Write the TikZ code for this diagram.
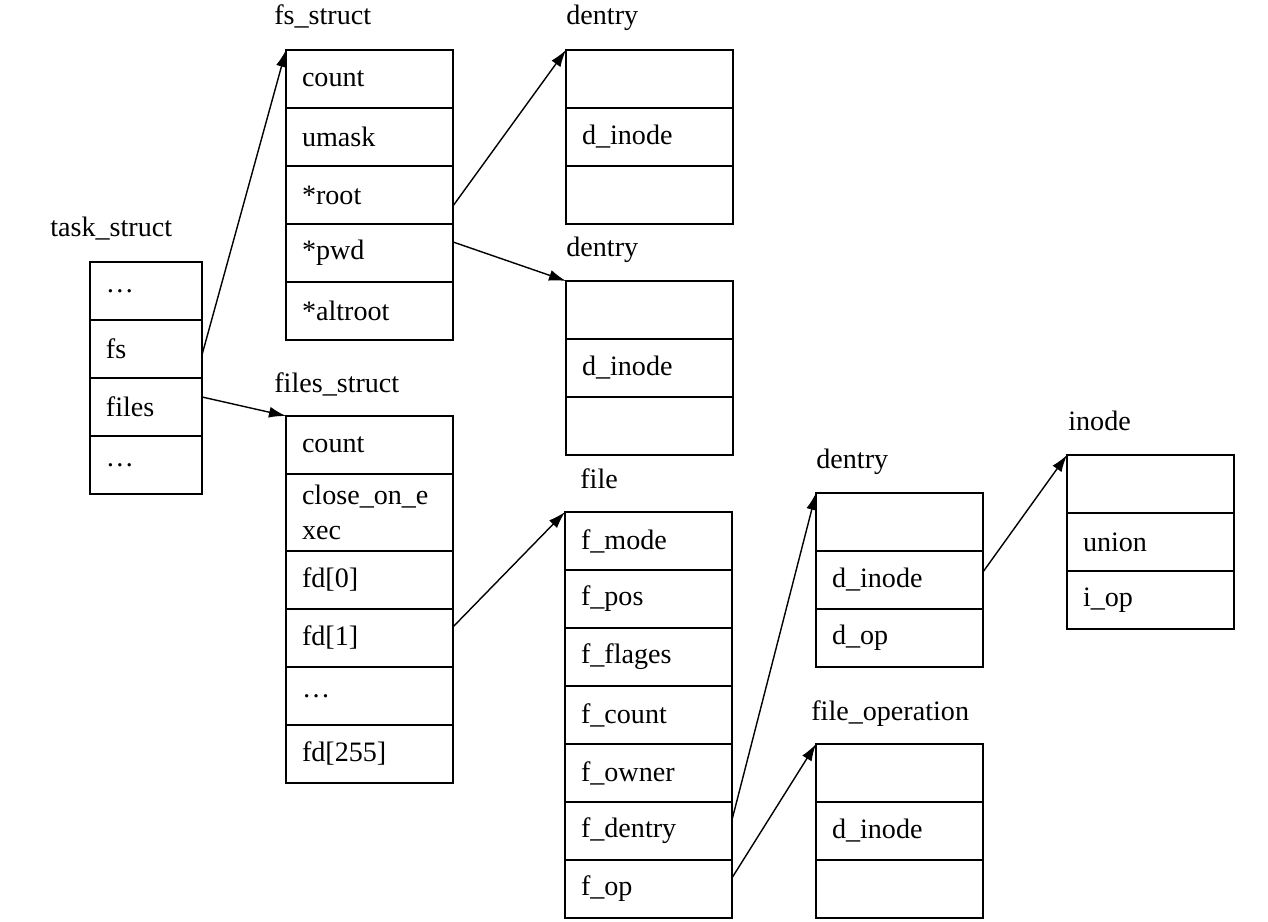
\documentclass[tikz,border=0pt]{standalone}
\usepackage{fontspec}
\setmainfont{Liberation Serif}
\usetikzlibrary{positioning,arrows.meta}

\tikzset{
  cell/.style={draw, line width=1pt, minimum width=3.34cm, minimum height=1.16cm,
    text width=2.70cm, inner xsep=0.32cm, inner ysep=0pt, outer sep=0pt, align=left,
    font=\fontsize{16}{20}\selectfont},
  tcell/.style={cell, minimum width=2.24cm, text width=1.60cm},
  title/.style={anchor=base west, inner sep=0pt, font=\fontsize{16}{20}\selectfont},
  ptr/.style={-{Latex[length=0.34cm,width=0.22cm]}, line width=0.8pt},
}

\begin{document}
\begin{tikzpicture}[x=0.02cm, y=-0.02cm, node distance=0pt]
    \useasboundingbox (0,0) rectangle (1268,922);

    % task_struct
    \node[title] (tsT) at (50,237) {task\_struct};
    \node[tcell, anchor=north west] (ts1) at (90,262) {…};
    \node[tcell, below=of ts1] (tsFs) {fs};
    \node[tcell, below=of tsFs] (tsFiles) {files};
    \node[tcell, below=of tsFiles] (ts4) {…};

    % fs_struct
    \node[title] (fsT) at (274,25) {fs\_struct};
    \node[cell, anchor=north west] (fsCount) at (286,50) {count};
    \node[cell, below=of fsCount] (fsUmask) {umask};
    \node[cell, below=of fsUmask] (fsRoot) {*root};
    \node[cell, below=of fsRoot] (fsPwd) {*pwd};
    \node[cell, below=of fsPwd] (fsAlt) {*altroot};

    % files_struct
    \node[title] (flT) at (274,392) {files\_struct};
    \node[cell, anchor=north west] (flCount) at (286,416) {count};
    \node[cell, below=of flCount, minimum height=1.54cm] (flClose) {close\_on\_e\\xec};
    \node[cell, below=of flClose] (flFd0) {fd[0]};
    \node[cell, below=of flFd0] (flFd1) {fd[1]};
    \node[cell, below=of flFd1] (flDots) {…};
    \node[cell, below=of flDots] (flFd255) {fd[255]};

    % dentry (root)
    \node[title] (dnAT) at (566,25) {dentry};
    \node[cell, anchor=north west] (dnA1) at (566,50) {};
    \node[cell, below=of dnA1] (dnAInode) {d\_inode};
    \node[cell, below=of dnAInode] (dnA3) {};

    % dentry (pwd)
    \node[title] (dnBT) at (566,256) {dentry};
    \node[cell, anchor=north west] (dnB1) at (566,281) {};
    \node[cell, below=of dnB1] (dnBInode) {d\_inode};
    \node[cell, below=of dnBInode] (dnB3) {};

    % file
    \node[title] (fT) at (580,488) {file};
    \node[cell, anchor=north west] (fMode) at (565,512) {f\_mode};
    \node[cell, below=of fMode] (fPos) {f\_pos};
    \node[cell, below=of fPos] (fFlages) {f\_flages};
    \node[cell, below=of fFlages] (fCount) {f\_count};
    \node[cell, below=of fCount] (fOwner) {f\_owner};
    \node[cell, below=of fOwner] (fDentry) {f\_dentry};
    \node[cell, below=of fDentry] (fOp) {f\_op};

    % dentry (file)
    \node[title] (dnCT) at (816,468) {dentry};
    \node[cell, anchor=north west] (dnC1) at (816,493) {};
    \node[cell, below=of dnC1] (dnCInode) {d\_inode};
    \node[cell, below=of dnCInode] (dnCOp) {d\_op};

    % file_operation
    \node[title] (foT) at (811,720) {file\_operation};
    \node[cell, anchor=north west] (fo1) at (816,744) {};
    \node[cell, below=of fo1] (foInode) {d\_inode};
    \node[cell, below=of foInode] (fo3) {};

    % inode
    \node[title] (inT) at (1068,430) {inode};
    \node[cell, anchor=north west] (in1) at (1067,455) {};
    \node[cell, below=of in1] (inUnion) {union};
    \node[cell, below=of inUnion] (inOp) {i\_op};

    % pointers
    \draw[ptr] ([yshift=-0.12cm]tsFs.east) -- (fsCount.north west);
    \draw[ptr] ([yshift=0.2cm]tsFiles.east) -- (flCount.north west);
    \draw[ptr] ([yshift=-0.22cm]fsRoot.east) -- (dnA1.north west);
    \draw[ptr] ([yshift=0.22cm]fsPwd.east) -- (dnB1.north west);
    \draw[ptr] ([yshift=0.22cm]flFd1.east) -- (fMode.north west);
    \draw[ptr] ([yshift=0.22cm]fDentry.east) -- (dnC1.north west);
    \draw[ptr] ([yshift=0.22cm]fOp.east) -- (fo1.north west);
    \draw[ptr] ([yshift=0.16cm]dnCInode.east) -- (in1.north west);
\end{tikzpicture}
\end{document}
